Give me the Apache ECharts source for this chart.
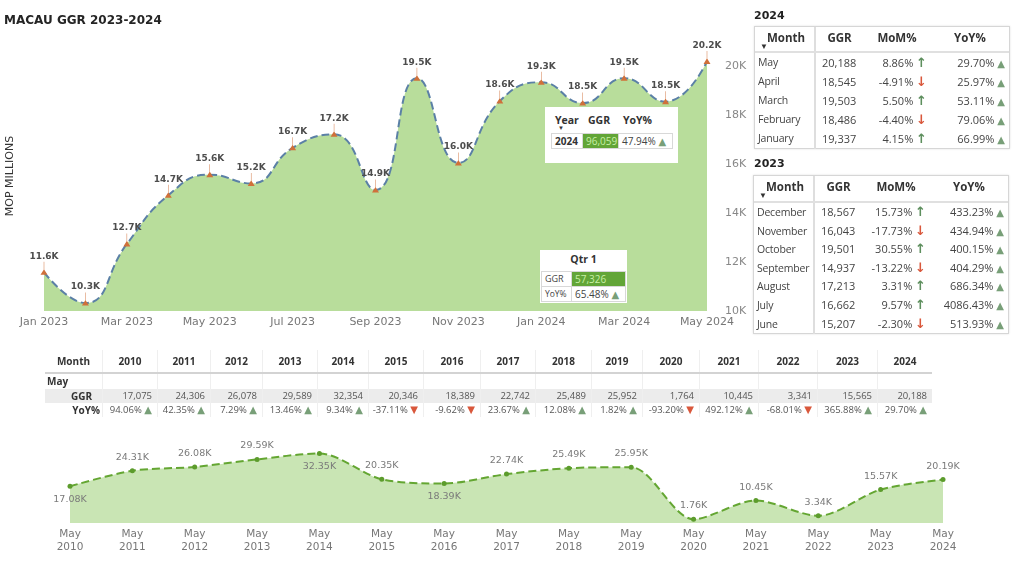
<!DOCTYPE html>
<html>
<head>
<meta charset="utf-8">
<script src="https://cdn.jsdelivr.net/npm/echarts@6/dist/echarts.min.js"></script>
<style>
body{margin:0;width:1024px;height:562px;position:relative;background:#fff;overflow:hidden;font-family:'Open Sans',sans-serif}
#chart{position:absolute;left:0;top:0;width:1024px;height:562px}
.lbl{position:absolute;font-family:'DejaVu Sans';font-weight:bold;font-size:11px;color:#222}
.mt{position:absolute;width:256px;border:1px solid #d6d6d6;box-shadow:0 0 2px rgba(0,0,0,.12);background:#fff;font-size:11px;color:#444;box-sizing:border-box}
.mt .hd,.mt .rw{display:grid;grid-template-columns:61px 47px 68px 78px}
.mt .hd{border-bottom:2px solid #e0e0e0;font-weight:bold;color:#333;font-size:11.5px;box-sizing:border-box}
.mt .hd>div{text-align:center;padding-top:3px;position:relative}
.caret{position:absolute;left:5px;top:13px;font-size:8px;color:#333}
.mt .c0{border-right:2px solid #dedede;padding-left:3px;white-space:nowrap;font-size:10.5px;letter-spacing:-0.2px}
.mt .hd .c0{text-align:left;padding-left:12px;font-size:11.5px;letter-spacing:0}
.mt .g{padding-left:6px}
.mt .r{text-align:right;padding-right:4px;white-space:nowrap}
.up{color:#5e8f5e;font-weight:bold;font-family:'DejaVu Sans';font-size:13px}
.dn{color:#d9573b;font-weight:bold;font-family:'DejaVu Sans';font-size:13px}
.tu{color:#789f78;font-family:'DejaVu Sans';font-size:10px}
.td{color:#d9573b;font-family:'DejaVu Sans';font-size:10px}
.box{position:absolute;background:#fff;font-size:10px;color:#444}
.box .h{position:absolute;font-weight:bold;color:#333;font-size:10.5px}
.box .cell{position:absolute;box-sizing:border-box;border:1px solid #d8d8d8;height:16px;line-height:14px;padding-left:3px;white-space:nowrap}
.green{background:#62a537;color:#c9f0a6}
#may{position:absolute;left:45px;top:350px;width:887px;font-size:9.5px;color:#555}
#may .row{display:grid}
#may .row>div{box-sizing:border-box;white-space:nowrap}
#may .hdr>div{font-weight:bold;color:#333;font-size:10px;text-align:center;line-height:22px;border-left:1px solid #efefef}
#may .hdr{border-bottom:2px solid #d3d3d3}
#may .row>div:first-child{border-left:none}
#may .v>div{text-align:right;padding-right:5px;border-left:1px solid #efefef}
</style>
</head>
<body>
<div id="chart"></div>
<div class="lbl" style="left:754px;top:9px">2024</div>
<div id="t2024" class="mt" style="left:754px;top:26px"></div>
<div class="lbl" style="left:754px;top:157px">2023</div>
<div id="t2023" class="mt" style="left:753px;top:175px"></div>
<div id="yearBox" class="box" style="left:545px;top:107px;width:133px;height:56px"></div>
<div id="qtrBox" class="box" style="left:540px;top:250px;width:87px;height:53px"></div>
<div id="may"></div>
<script>
// monthly GGR, MOP millions
const months = ['Jan 2023','Feb 2023','Mar 2023','Apr 2023','May 2023','Jun 2023','Jul 2023','Aug 2023','Sep 2023','Oct 2023','Nov 2023','Dec 2023','Jan 2024','Feb 2024','Mar 2024','Apr 2024','May 2024'];
const ggrMonthly = [11580,10324,12738,14722,15565,15207,16662,17213,14937,19501,16043,18567,19337,18486,19503,18545,20188];

// May of each year
const mayYears = [2010,2011,2012,2013,2014,2015,2016,2017,2018,2019,2020,2021,2022,2023,2024];
const mayGgr = [17075,24306,26078,29589,32354,20346,18389,22742,25489,25952,1764,10445,3341,15565,20188];
const mayYoy = [94.06,42.35,7.29,13.46,9.34,-37.11,-9.62,23.67,12.08,1.82,-93.20,492.12,-68.01,365.88,29.70];

// tables
const rows2024 = ['May','April','March','February','January'];
const ggr2024 = [20188,18545,19503,18486,19337];
const mom2024 = [8.86,-4.91,5.50,-4.40,4.15];
const yoy2024 = [29.70,25.97,53.11,79.06,66.99];

const rows2023 = ['December','November','October','September','August','July','June'];
const ggr2023 = [18567,16043,19501,14937,17213,16662,15207];
const mom2023 = [15.73,-17.73,30.55,-13.22,3.31,9.57,-2.30];
const yoy2023 = [433.23,434.94,400.15,404.29,686.34,4086.43,513.93];

// cards
const ytdYear = 2024, ytdGgr = 96059, ytdYoy = 47.94;
const q1Name = 'Qtr 1', q1Ggr = 57326, q1Yoy = 65.48;

const fmt = n => n.toLocaleString('en-US');
const pct = n => n.toFixed(2) + '%';
const tri = n => n >= 0 ? '<span class="tu">▲</span>' : '<span class="td">▼</span>';
const arr = n => n >= 0 ? '<span class="up">↑</span>' : '<span class="dn">↓</span>';

function monthTable(id, names, ggr, mom, yoy, headH, rowH) {
    let h = '<div class="hd" style="height:' + headH + 'px"><div class="c0">Month<span class="caret">▼</span></div><div>GGR</div><div>MoM%</div><div>YoY%</div></div>';
    names.forEach((m, i) => {
        h += '<div class="rw" style="height:' + rowH + 'px;line-height:' + rowH + 'px">' +
            '<div class="c0">' + m + '</div><div class="g">' + fmt(ggr[i]) + '</div>' +
            '<div class="r">' + pct(mom[i]) + ' ' + arr(mom[i]) + '</div>' +
            '<div class="r">' + pct(yoy[i]) + ' ' + tri(yoy[i]) + '</div></div>';
    });
    document.getElementById(id).innerHTML = h;
}
monthTable('t2024', rows2024, ggr2024, mom2024, yoy2024, 26, 19);
monthTable('t2023', rows2023, ggr2023, mom2023, yoy2023, 27, 18.6);

// year card
document.getElementById('yearBox').innerHTML =
    '<div class="h" style="left:10px;top:6px">Year</div><div class="h" style="left:13px;top:17px;font-size:6px">▼</div>' +
    '<div class="h" style="left:43px;top:6px">GGR</div><div class="h" style="left:78px;top:6px">YoY%</div>' +
    '<div class="cell" style="left:6px;top:26px;width:32px;font-weight:bold;color:#333">' + ytdYear + '</div>' +
    '<div class="cell green" style="left:37px;top:26px;width:37px">' + fmt(ytdGgr) + '</div>' +
    '<div class="cell" style="left:73px;top:26px;width:55px">' + pct(ytdYoy) + ' ' + tri(ytdYoy) + '</div>';

// quarter card
document.getElementById('qtrBox').innerHTML =
    '<div class="h" style="left:0;width:87px;text-align:center;top:2px">' + q1Name + '</div>' +
    '<div class="cell" style="left:1px;top:21px;width:31px;font-size:9px">GGR</div>' +
    '<div class="cell green" style="left:31px;top:21px;width:55px">' + fmt(q1Ggr) + '</div>' +
    '<div class="cell" style="left:1px;top:36px;width:31px;font-size:8.5px">YoY%</div>' +
    '<div class="cell" style="left:31px;top:36px;width:55px">' + pct(q1Yoy) + ' ' + tri(q1Yoy) + '</div>';

// May matrix
const colW = [57,55,53,52,55,51,55,57,55,56,51,57,59,59,60,55];
const tpl = 'grid-template-columns:' + colW.map(w => w + 'px').join(' ');
let m = '<div class="row hdr" style="' + tpl + '"><div>Month</div>' + mayYears.map(y => '<div>' + y + '</div>').join('') + '</div>';
m += '<div class="row v" style="' + tpl + ';height:15px;line-height:15px"><div style="text-align:left;font-weight:bold;color:#333;font-size:10px;padding-left:2px">May</div>' + mayYears.map(() => '<div></div>').join('') + '</div>';
m += '<div class="row v" style="' + tpl + ';height:14px;line-height:14px;background:#ececec"><div style="font-weight:bold;color:#333;font-size:10px;padding-right:10px">GGR</div>' + mayGgr.map(v => '<div>' + fmt(v) + '</div>').join('') + '</div>';
m += '<div class="row v" style="' + tpl + ';height:14px;line-height:14px"><div style="font-weight:bold;color:#333;font-size:10px;padding-right:2px">YoY%</div>' + mayYoy.map(v => '<div>' + pct(v) + ' ' + tri(v) + '</div>').join('') + '</div>';
document.getElementById('may').innerHTML = m;

// labels under the May points
const mayBelow = [0, 4, 6];
const kfmt = (v, d) => (Math.round(v / Math.pow(10, 3 - d)) / Math.pow(10, d)).toFixed(d) + 'K';

var myChart = echarts.init(document.getElementById('chart'));
myChart.setOption({
    animation: false,
    title: {
        text: 'MACAU GGR 2023-2024', left: 4, top: 15, padding: 0,
        textStyle: {fontFamily: 'DejaVu Sans', fontSize: 12, fontWeight: 'bold', color: '#252525'}
    },
    graphic: [{
        type: 'text', x: 10, y: 176, rotation: Math.PI / 2,
        style: {text: 'MOP MILLIONS', fontFamily: 'DejaVu Sans', fontSize: 11, fill: '#333', align: 'center', verticalAlign: 'middle'}
    }],
    grid: [
        {left: 44, right: 317, top: 66, bottom: 251},
        {left: 70, right: 81, top: 437, bottom: 39}
    ],
    xAxis: [
        {
            gridIndex: 0, type: 'category', data: months, boundaryGap: false,
            axisLine: {show: false}, axisTick: {show: false},
            axisLabel: {interval: 1, color: '#777', fontSize: 11, fontFamily: 'DejaVu Sans', margin: 6}
        },
        {
            gridIndex: 1, type: 'category', data: mayYears.map(y => 'May\n' + y), boundaryGap: false,
            axisLine: {show: false}, axisTick: {show: false},
            axisLabel: {interval: 0, color: '#777', fontSize: 10.5, lineHeight: 13, fontFamily: 'DejaVu Sans', margin: 5}
        }
    ],
    yAxis: [
        {
            gridIndex: 0, type: 'value', position: 'right', min: 10000, max: 20000, interval: 2000,
            splitLine: {show: false}, axisLine: {show: false},
            axisLabel: {formatter: v => v / 1000 + 'K', color: '#888', fontSize: 11, fontFamily: 'DejaVu Sans', margin: 18}
        },
        {gridIndex: 1, type: 'value', min: 0, max: 40000, show: false}
    ],
    series: [
        {
            type: 'line', xAxisIndex: 0, yAxisIndex: 0, data: ggrMonthly,
            smooth: 0.5, clip: false,
            symbol: 'path://M4.2,0 L4.8,0 L4.8,9 L4.2,9 Z M0,14 L4.5,8 L9,14 Z',
            symbolSize: [7, 13], symbolOffset: [0, -4],
            itemStyle: {color: '#d0703a'},
            lineStyle: {type: 'dashed', color: '#5b80a6', width: 2},
            areaStyle: {color: '#b8dd9b', opacity: 1},
            label: {
                show: true, position: 'top', distance: 1,
                formatter: p => kfmt(p.value, 1),
                fontFamily: 'DejaVu Sans', fontSize: 9, fontWeight: 'bold', color: '#4d4d4d'
            }
        },
        {
            type: 'line', xAxisIndex: 1, yAxisIndex: 1,
            data: mayGgr.map((v, i) => ({value: v, label: {position: mayBelow.includes(i) ? 'bottom' : 'top'}})),
            smooth: 0.3, symbol: 'circle', symbolSize: 5,
            itemStyle: {color: '#5c9c2c'},
            lineStyle: {type: 'dashed', color: '#64a632', width: 2},
            areaStyle: {color: '#c9e5b4', opacity: 1},
            label: {
                show: true, distance: 6,
                formatter: p => kfmt(p.value, 2),
                fontFamily: 'DejaVu Sans', fontSize: 9.5, color: '#7a7a7a'
            }
        }
    ]
});
window.addEventListener('resize', function () {
    myChart.resize();
});
</script>
</body>
</html>
